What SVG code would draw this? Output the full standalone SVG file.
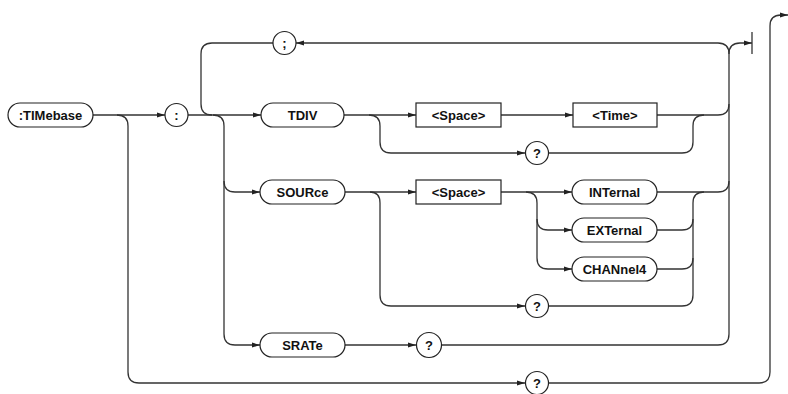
<svg xmlns="http://www.w3.org/2000/svg" width="788" height="394" viewBox="0 0 788 394">
<defs>
<marker id="arr" markerUnits="userSpaceOnUse" markerWidth="8" markerHeight="6" refX="8" refY="3" orient="auto">
<path d="M0,0.5 L8,3 L0,5.5 Z" fill="#222"/>
</marker>
<style>
.n{fill:#fff;stroke:#222;stroke-width:1.2}
.t{font-family:"Liberation Sans",Arial,sans-serif;font-weight:bold;font-size:13px;fill:#111;text-anchor:middle;dominant-baseline:central}
.c path,.c line{fill:none;stroke:#333;stroke-width:1.3}
.a{marker-end:url(#arr)}
</style>
</defs>
<rect width="788" height="394" fill="#fff"/>
<g class="c" id="connectors">
<path class="a" d="M93,115 H165"/>
<path class="a" d="M117,115 Q128,115 128,126 V372 Q128,383 139,383 H525"/>
<path class="a" d="M549,383 H759 Q770,383 770,372 V26 Q770,15 781,15 H788"/>
<path class="a" d="M188,115 H261"/>
<path class="a" d="M213,115 Q224,115 224,126 V181 Q224,192 235,192 H260"/>
<path class="a" d="M224,181 V334 Q224,345 235,345 H260"/>
<path d="M273,43 H212 Q201,43 201,54 V104 Q201,115 212,115"/>
<path class="a" d="M729,54 Q729,43 718,43 H296"/>
<path class="a" d="M729,54 Q729,43 740,43 H752"/>
<line x1="752" y1="32" x2="752" y2="54"/>
<path class="a" d="M344,115 H416"/>
<path class="a" d="M501,115 H573"/>
<path d="M657,115 H718 Q729,115 729,104"/>
<path class="a" d="M369,115 Q380,115 380,126 V142 Q380,153 391,153 H525"/>
<path d="M549,153 H682 Q693,153 693,142 V126 Q693,115 704,115"/>
<path class="a" d="M345,192 H416"/>
<path class="a" d="M370,192 Q380,192 380,203 V295 Q380,306 391,306 H525"/>
<path d="M549,306 H682 Q693,306 693,295 V203 Q693,192 704,192"/>
<path class="a" d="M501,192 H572"/>
<path class="a" d="M526,192 Q537,192 537,203 V219 Q537,230 548,230 H572"/>
<path class="a" d="M537,219 V258 Q537,269 548,269 H572"/>
<path d="M657,192 H718 Q729,192 729,181"/>
<path d="M657,230 H682 Q693,230 693,219"/>
<path d="M657,269 H682 Q693,269 693,258"/>
<path class="a" d="M345,345 H416"/>
<path d="M441,345 H718 Q729,345 729,334 V54"/>
</g>
<g id="timebase"><rect class="n" x="8" y="103" width="85" height="24" rx="12"/><text class="t" x="50.5" y="115">:TIMebase</text></g>
<g id="colon"><circle class="n" cx="176.5" cy="115" r="11.5"/><text class="t" x="176.5" y="115">:</text></g>
<g id="semicolon"><circle class="n" cx="284.5" cy="43" r="11.5"/><text class="t" x="284.5" y="43">;</text></g>
<g id="tdiv"><rect class="n" x="261" y="103" width="83" height="24" rx="12"/><text class="t" x="302.5" y="115">TDIV</text></g>
<g id="space1"><rect class="n" x="416" y="103" width="85" height="24"/><text class="t" x="458.5" y="115">&lt;Space&gt;</text></g>
<g id="time"><rect class="n" x="573" y="103" width="84" height="24"/><text class="t" x="615" y="115">&lt;Time&gt;</text></g>
<g id="q1"><circle class="n" cx="537" cy="153" r="11.5"/><text class="t" x="537" y="153">?</text></g>
<g id="source"><rect class="n" x="260" y="180" width="85" height="24" rx="12"/><text class="t" x="302.5" y="192">SOURce</text></g>
<g id="space2"><rect class="n" x="416" y="180" width="85" height="24"/><text class="t" x="458.5" y="192">&lt;Space&gt;</text></g>
<g id="internal"><rect class="n" x="572" y="180" width="85" height="24" rx="12"/><text class="t" x="614.5" y="192">INTernal</text></g>
<g id="external"><rect class="n" x="572" y="218" width="85" height="24" rx="12"/><text class="t" x="614.5" y="230">EXTernal</text></g>
<g id="channel4"><rect class="n" x="572" y="257" width="85" height="24" rx="12"/><text class="t" x="614.5" y="269">CHANnel4</text></g>
<g id="q2"><circle class="n" cx="537" cy="306" r="11.5"/><text class="t" x="537" y="306">?</text></g>
<g id="srate"><rect class="n" x="260" y="333" width="85" height="24" rx="12"/><text class="t" x="302.5" y="345">SRATe</text></g>
<g id="q3"><circle class="n" cx="429" cy="345" r="12.5"/><text class="t" x="429" y="345">?</text></g>
<g id="q4"><circle class="n" cx="537" cy="383" r="11.5"/><text class="t" x="537" y="383">?</text></g>
</svg>
